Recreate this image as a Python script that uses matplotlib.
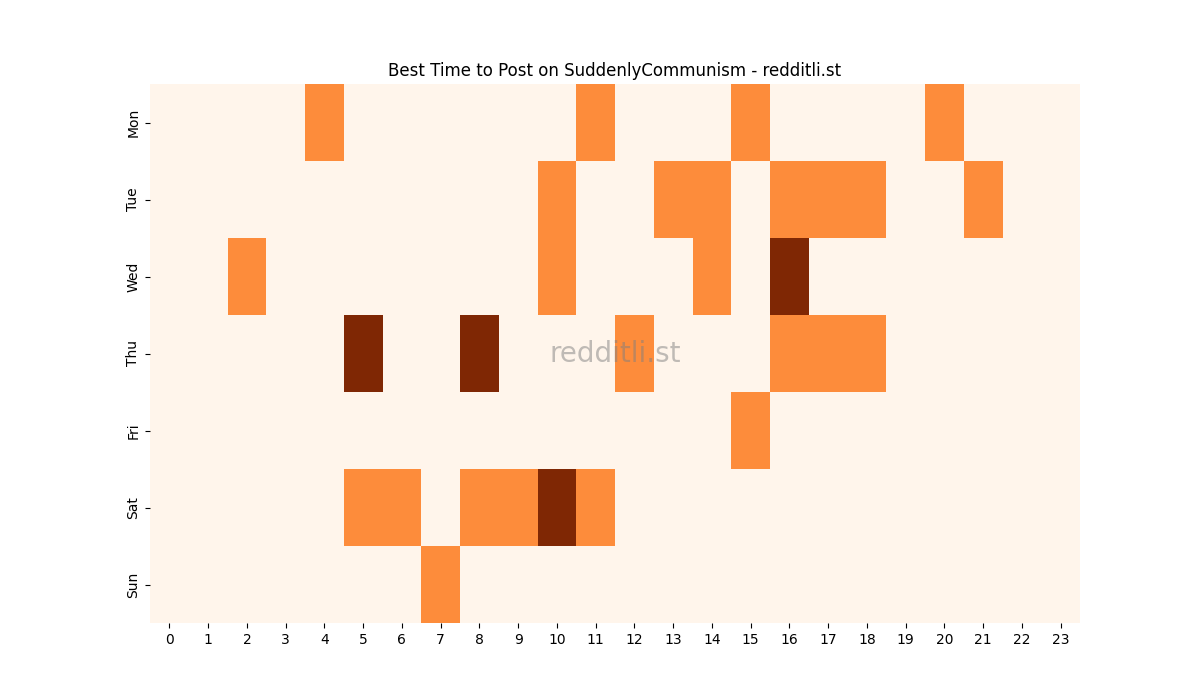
import matplotlib
matplotlib.use("Agg")
import matplotlib.pyplot as plt
import seaborn as sns
import numpy as np

days = ["Mon", "Tue", "Wed", "Thu", "Fri", "Sat", "Sun"]
hours = list(range(24))
mon = [0,0,0,0,1,0,0,0,0,0,0,1,0,0,0,1,0,0,0,0,1,0,0,0]
tue = [0,0,0,0,0,0,0,0,0,0,1,0,0,1,1,0,1,1,1,0,0,1,0,0]
wed = [0,0,1,0,0,0,0,0,0,0,1,0,0,0,1,0,2,0,0,0,0,0,0,0]
thu = [0,0,0,0,0,2,0,0,2,0,0,0,1,0,0,0,1,1,1,0,0,0,0,0]
fri = [0,0,0,0,0,0,0,0,0,0,0,0,0,0,0,1,0,0,0,0,0,0,0,0]
sat = [0,0,0,0,0,1,1,0,1,1,2,1,0,0,0,0,0,0,0,0,0,0,0,0]
sun = [0,0,0,0,0,0,0,1,0,0,0,0,0,0,0,0,0,0,0,0,0,0,0,0]

data = np.array([mon, tue, wed, thu, fri, sat, sun])

fig, ax = plt.subplots(figsize=(12, 7), dpi=100)
sns.heatmap(data, cmap="Oranges", cbar=False, ax=ax,
            xticklabels=hours, yticklabels=days)
ax.set_title("Best Time to Post on SuddenlyCommunism - redditli.st")
ax.text(0.5, 0.5, "redditli.st", transform=ax.transAxes, ha="center", va="center",
        fontsize=20, color="gray", alpha=0.5)
plt.setp(ax.get_xticklabels(), rotation=0)
fig.savefig("out.png")
